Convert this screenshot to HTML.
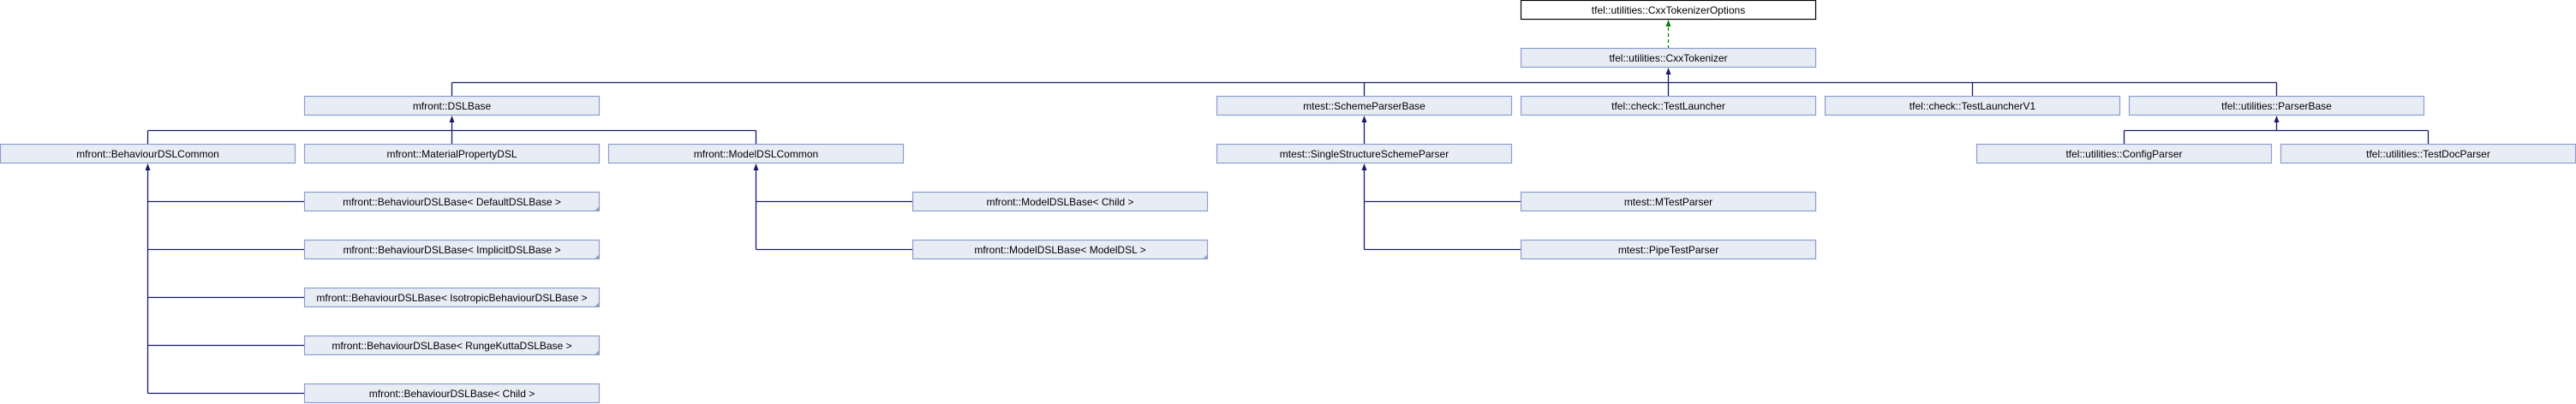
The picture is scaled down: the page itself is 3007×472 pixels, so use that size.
<!DOCTYPE html>
<html><head><meta charset="utf-8"><style>
html,body{margin:0;padding:0;background:#fff;}
svg{display:block;}
text{font-family:"Liberation Sans",Helvetica,sans-serif;font-size:12px;fill:#000;text-anchor:middle;}
.b{fill:#e8ecf5;stroke:#8a9fcc;stroke-width:1.2;}
.e{stroke:#191970;stroke-width:1.3;fill:none;}
.a{fill:#191970;}
</style></head><body>
<svg width="3007" height="472" viewBox="0 0 3007 472" xmlns="http://www.w3.org/2000/svg">
<path d="M1947.5 57 V26" stroke="#008000" stroke-width="1.3" stroke-dasharray="4,3" fill="none"/>
<polygon points="1947.5,23 1944.5,31 1950.5,31" fill="#008000"/>
<path class="e" d="M1947.5 82 V96.5 M527.5 96.5 H2657.5 M527.5 96.5 V112 M1592.5 96.5 V112 M1947.5 96.5 V112 M2302.5 96.5 V112 M2657.5 96.5 V112"/>
<polygon class="a" points="1947.5,79 1944.5,87 1950.5,87"/>
<path class="e" d="M527.5 138 V152.5 M172.5 152.5 H882.5 M172.5 152.5 V168 M527.5 152.5 V168 M882.5 152.5 V168"/>
<polygon class="a" points="527.5,135 524.5,143 530.5,143"/>
<path class="e" d="M1592.5 138 V168"/>
<polygon class="a" points="1592.5,135 1589.5,143 1595.5,143"/>
<path class="e" d="M2657.5 138 V152.5 M2479.5 152.5 H2834.5 M2479.5 152.5 V168 M2834.5 152.5 V168"/>
<polygon class="a" points="2657.5,135 2654.5,143 2660.5,143"/>
<path class="e" d="M172.5 194 V459.5 M172.5 235.5 H355 M172.5 291.5 H355 M172.5 347.5 H355 M172.5 403.5 H355 M172.5 459.5 H355"/>
<polygon class="a" points="172.5,191 169.5,199 175.5,199"/>
<path class="e" d="M882.5 194 V291.5 M882.5 235.5 H1065 M882.5 291.5 H1065"/>
<polygon class="a" points="882.5,191 879.5,199 885.5,199"/>
<path class="e" d="M1592.5 194 V291.5 M1592.5 235.5 H1775 M1592.5 291.5 H1775"/>
<polygon class="a" points="1592.5,191 1589.5,199 1595.5,199"/>

<rect x="1775.5" y="0.5" width="344" height="22" fill="#fff" stroke="#000" stroke-width="1.2"/>
<text x="1947.5" y="16">tfel::utilities::CxxTokenizerOptions</text>

<rect class="b" x="1775.5" y="56.5" width="344" height="22"/><text x="1947.5" y="72">tfel::utilities::CxxTokenizer</text>

<rect class="b" x="355.5" y="112.5" width="344" height="22"/><text x="527.5" y="128">mfront::DSLBase</text>
<rect class="b" x="1420.5" y="112.5" width="344" height="22"/><text x="1592.5" y="128">mtest::SchemeParserBase</text>
<rect class="b" x="1775.5" y="112.5" width="344" height="22"/><text x="1947.5" y="128">tfel::check::TestLauncher</text>
<rect class="b" x="2130.5" y="112.5" width="344" height="22"/><text x="2302.5" y="128">tfel::check::TestLauncherV1</text>
<rect class="b" x="2485.5" y="112.5" width="344" height="22"/><text x="2657.5" y="128">tfel::utilities::ParserBase</text>

<rect class="b" x="0.5" y="168.5" width="344" height="22"/><text x="172.5" y="184">mfront::BehaviourDSLCommon</text>
<rect class="b" x="355.5" y="168.5" width="344" height="22"/><text x="527.5" y="184">mfront::MaterialPropertyDSL</text>
<rect class="b" x="710.5" y="168.5" width="344" height="22"/><text x="882.5" y="184">mfront::ModelDSLCommon</text>
<rect class="b" x="1420.5" y="168.5" width="344" height="22"/><text x="1592.5" y="184">mtest::SingleStructureSchemeParser</text>
<rect class="b" x="2307.5" y="168.5" width="344" height="22"/><text x="2479.5" y="184">tfel::utilities::ConfigParser</text>
<rect class="b" x="2662.5" y="168.5" width="344" height="22"/><text x="2834.5" y="184">tfel::utilities::TestDocParser</text>

<rect class="b" x="355.5" y="224.5" width="344" height="22"/><text x="527.5" y="240">mfront::BehaviourDSLBase&lt; DefaultDSLBase &gt;</text>
<rect class="b" x="1065.5" y="224.5" width="344" height="22"/><text x="1237.5" y="240">mfront::ModelDSLBase&lt; Child &gt;</text>
<rect class="b" x="1775.5" y="224.5" width="344" height="22"/><text x="1947.5" y="240">mtest::MTestParser</text>

<rect class="b" x="355.5" y="280.5" width="344" height="22"/><text x="527.5" y="296">mfront::BehaviourDSLBase&lt; ImplicitDSLBase &gt;</text>
<rect class="b" x="1065.5" y="280.5" width="344" height="22"/><text x="1237.5" y="296">mfront::ModelDSLBase&lt; ModelDSL &gt;</text>
<rect class="b" x="1775.5" y="280.5" width="344" height="22"/><text x="1947.5" y="296">mtest::PipeTestParser</text>

<rect class="b" x="355.5" y="336.5" width="344" height="22"/><text x="527.5" y="352">mfront::BehaviourDSLBase&lt; IsotropicBehaviourDSLBase &gt;</text>
<rect class="b" x="355.5" y="392.5" width="344" height="22"/><text x="527.5" y="408">mfront::BehaviourDSLBase&lt; RungeKuttaDSLBase &gt;</text>
<rect class="b" x="355.5" y="448.5" width="344" height="22"/><text x="527.5" y="464">mfront::BehaviourDSLBase&lt; Child &gt;</text>

<g fill="#8a9fcc">
<polygon points="699.5,241 699.5,246.5 694,246.5"/>
<polygon points="699.5,297 699.5,302.5 694,302.5"/>
<polygon points="699.5,353 699.5,358.5 694,358.5"/>
<polygon points="699.5,409 699.5,414.5 694,414.5"/>
<polygon points="1409.5,297 1409.5,302.5 1404,302.5"/>
</g>
</svg>
</body></html>
